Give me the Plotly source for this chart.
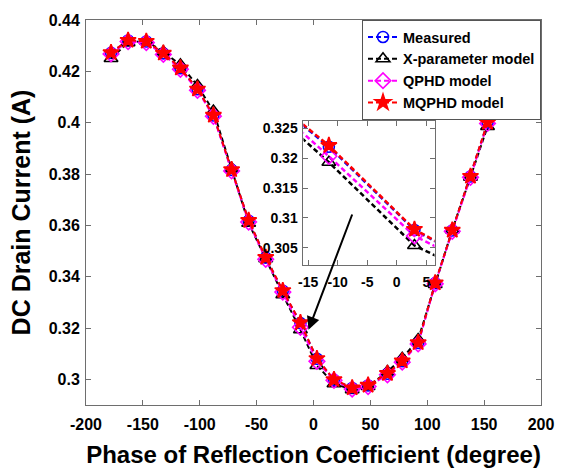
import plotly.graph_objects as go

# ---- data ----
phase = [-178, -163, -147, -132, -117, -102, -88, -72, -57, -42, -27, -11.5,
         3, 18, 34, 48, 65, 78, 92, 107, 122, 138, 153, 168]
measured = [0.4272, 0.4320, 0.4316, 0.4270, 0.4212, 0.4130, 0.4028, 0.3816,
            0.3618, 0.3474, 0.3345, 0.3219, 0.3080, 0.2998, 0.2966, 0.2976,
            0.3022, 0.3071, 0.3142, 0.3375, 0.3580, 0.3790, 0.4000, 0.4210]
xparam = [0.4250, 0.4312, 0.4318, 0.4276, 0.4225, 0.4145, 0.4045, 0.3822,
          0.3608, 0.3470, 0.3330, 0.3193, 0.3054, 0.2983, 0.2960, 0.2972,
          0.3030, 0.3082, 0.3155, 0.3370, 0.3583, 0.3788, 0.3985, 0.4200]
qphd = [0.4268, 0.4316, 0.4312, 0.4266, 0.4208, 0.4126, 0.4025, 0.3812,
        0.3613, 0.3468, 0.3340, 0.3203, 0.3070, 0.2996, 0.2962, 0.2972,
        0.3018, 0.3067, 0.3138, 0.3372, 0.3577, 0.3787, 0.3997, 0.4207]
mqphd = [0.4273, 0.4321, 0.4317, 0.4271, 0.4213, 0.4131, 0.4029, 0.3817,
         0.3619, 0.3475, 0.3346, 0.3221, 0.3081, 0.2999, 0.2967, 0.2977,
         0.3023, 0.3072, 0.3143, 0.3376, 0.3581, 0.3791, 0.4001, 0.4211]

names = ["Measured", "X-parameter model", "QPHD model", "MQPHD model"]

x_ticks = [-200, -150, -100, -50, 0, 50, 100, 150, 200]
x_ticktext = ["-200", "-150", "-100", "-50", "0", "50", "100", "150", "200"]
y_ticks = [0.30, 0.32, 0.34, 0.36, 0.38, 0.40, 0.42, 0.44]
y_ticktext = ["0.3", "0.32", "0.34", "0.36", "0.38", "0.4", "0.42", "0.44"]
inset_x_ticks = [-15, -10, -5, 0, 5]
inset_x_ticktext = ["-15", "-10", "-5", "0", "5"]
inset_y_ticks = [0.305, 0.31, 0.315, 0.32, 0.325]
inset_y_ticktext = ["0.305", "0.31", "0.315", "0.32", "0.325"]

FONT = "Liberation Sans, Arial, sans-serif"
series = [measured, xparam, qphd, mqphd]
colors = ["#0000ff", "#000000", "#ff00ff", "#ff0000"]
symbols = ["circle-open", "triangle-up-open", "diamond-open", "star"]
sizes = [11, 12, 12, 12]

fig = go.Figure()
for xa, ya, show in [("x", "y", True), ("x2", "y2", False)]:
    for vals, name, c, s, sz in zip(series, names, colors, symbols, sizes):
        fig.add_trace(go.Scatter(
            x=phase, y=vals, name=name, mode="lines+markers",
            xaxis=xa, yaxis=ya, showlegend=show,
            line=dict(color=c, width=2 if show else 2.5, dash="5px,3px"),
            marker=dict(symbol=s, size=sz, color=c,
                        line=dict(color=c, width=1.6)),
        ))

axis_common = dict(showline=True, linecolor="#6e6e6e", linewidth=1,
                   mirror="ticks", ticks="inside", ticklen=5,
                   tickcolor="#6e6e6e", showgrid=False, zeroline=False)

fig.update_layout(
    width=566, height=475,
    margin=dict(l=86, r=18, t=15, b=65),
    paper_bgcolor="white", plot_bgcolor="white",
    font=dict(family=FONT, color="black"),
    xaxis=dict(range=[-200, 200], tickvals=x_ticks, ticktext=x_ticktext,
               tickfont=dict(family=FONT, size=16, weight="bold"),
               ticklabelstandoff=5,
               title=dict(text="Phase of Reflection Coefficient (degree)",
                          font=dict(family=FONT, size=24, weight="bold"),
                          standoff=13),
               **axis_common),
    yaxis=dict(range=[0.29, 0.44], tickvals=y_ticks, ticktext=y_ticktext,
               tickfont=dict(family=FONT, size=16, weight="bold"),
               ticklabelstandoff=2,
               title=dict(text="DC Drain Current (A)",
                          font=dict(family=FONT, size=25, weight="bold"),
                          standoff=10),
               **axis_common),
    xaxis2=dict(domain=[0.478, 0.766], anchor="y2", range=[-15.8, 6.4],
                tickvals=inset_x_ticks, ticktext=inset_x_ticktext,
                tickfont=dict(family=FONT, size=14, weight="bold"),
                ticklabelstandoff=4,
                **axis_common),
    yaxis2=dict(domain=[0.363, 0.7385], anchor="x2", range=[0.3021, 0.32625],
                tickvals=inset_y_ticks, ticktext=inset_y_ticktext,
                tickfont=dict(family=FONT, size=14, weight="bold"),
                ticklabelstandoff=2,
                **axis_common),
    legend=dict(x=1, xanchor="right", y=1, yanchor="top",
                bgcolor="white", bordercolor="#555", borderwidth=1,
                font=dict(family=FONT, size=14.5, weight="bold"),
                tracegroupgap=0),
    annotations=[dict(x=-4.4, y=0.3193, ax=34.5, ay=0.3648,
                      xref="x", yref="y", axref="x", ayref="y",
                      showarrow=True, arrowhead=2, arrowsize=1.3,
                      arrowwidth=2, arrowcolor="black", text="")],
)

fig.write_html("out.html")
